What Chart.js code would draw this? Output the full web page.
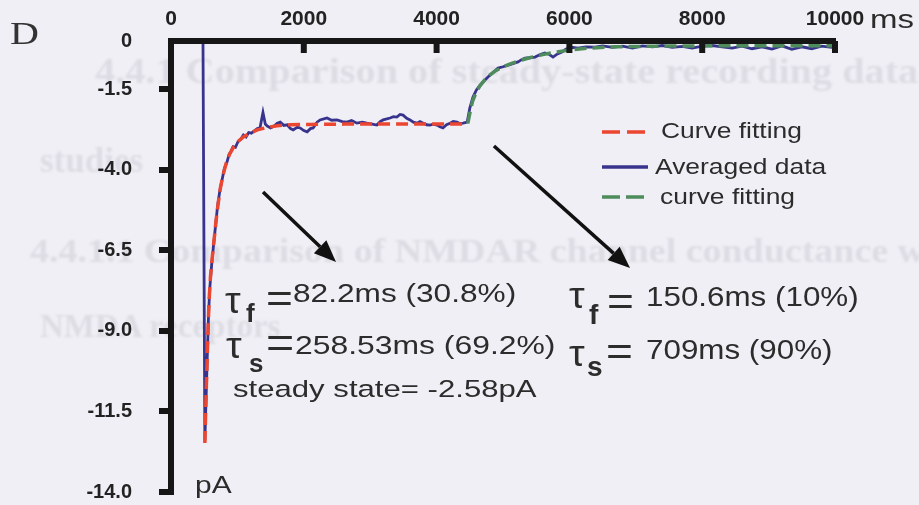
<!DOCTYPE html>
<html>
<head>
<meta charset="utf-8">
<script src="https://cdn.jsdelivr.net/npm/chart.js@4.4.1/dist/chart.umd.min.js"></script>
<style>
  html, body { margin: 0; padding: 0; background: #f0eff5; }
  #wrap { position: relative; width: 919px; height: 505px; overflow: hidden; }
  #ghost { position: absolute; left: 0; top: 0; width: 919px; height: 505px; filter: blur(1.2px); }
  canvas { position: absolute; left: 0; top: 0; }
  .t { position: absolute; white-space: nowrap; line-height: 1; transform-origin: 0 0;
       font-family: "Liberation Sans", Arial, sans-serif; color: #2c2c2c; }
</style>
</head>
<body>
<div id="wrap">
  <div id="ghost"></div>
  <canvas id="c" width="919" height="505"></canvas>
  <div id="notes"></div>
</div>
<script>
// ---- data -------------------------------------------------------------
// time axis ticks (ms) and current axis ticks (pA)
const X_TICKS = [0, 2000, 4000, 6000, 8000, 10000];
const Y_TICKS = [0, -1.5, -4.0, -6.5, -9.0, -11.5, -14.0];

// averaged whole-cell current trace
const avgTime = [
  0, 250, 470, 482, 510, 522, 536, 551, 566, 585, 612, 640, 670, 700, 735, 770, 805, 840, 875, 905,
  935, 970, 1010, 1050, 1090, 1130, 1170, 1210, 1260, 1300, 1340, 1385, 1420, 1450, 1500, 1540, 1600,
  1645, 1700, 1750, 1800, 1840, 1900, 1945, 2000, 2050, 2100, 2140, 2200, 2245, 2300, 2350, 2420, 2500,
  2580, 2650, 2720, 2800, 2880, 2950, 3030, 3100, 3150, 3195, 3250, 3300, 3350, 3400, 3450, 3495, 3550,
  3600, 3650, 3705, 3750, 3800, 3850, 3900, 3950, 4006, 4050, 4096, 4150, 4202, 4250, 4307, 4350, 4400,
  4460, 4500, 4548, 4600, 4654, 4710, 4774, 4850, 4925, 5000, 5075, 5150, 5226, 5280, 5331, 5400, 5482,
  5560, 5632, 5700, 5753, 5820, 5888, 5940, 5980, 6050, 6130, 6250, 6385, 6500, 6650, 6800, 6950, 7100,
  7250, 7400, 7550, 7700, 7850, 8000, 8150, 8300, 8450, 8600, 8750, 8900, 9050, 9200, 9350, 9500, 9650,
  9800, 9950, 10000
];
const avgCurrent = [
  0, 0, 0, -0.1, -12.40, -11.55, -10.55, -9.45, -8.45, -7.65, -6.95, -6.35, -5.75, -5.15, -4.65, -4.30, -3.95, -3.78, -3.52, -3.42,
  -3.28, -3.30, -3.12, -3.05, -2.92, -2.98, -2.84, -2.86, -2.78, -2.72, -2.70, -2.22, -2.58, -2.64, -2.70, -2.66, -2.55,
  -2.52, -2.62, -2.60, -2.72, -2.76, -2.68, -2.70, -2.78, -2.82, -2.72, -2.70, -2.52, -2.45, -2.42, -2.39, -2.46, -2.45,
  -2.50, -2.52, -2.47, -2.55, -2.52, -2.55, -2.58, -2.61, -2.50, -2.45, -2.42, -2.39, -2.35, -2.36, -2.28, -2.30, -2.40,
  -2.45, -2.52, -2.55, -2.50, -2.55, -2.60, -2.61, -2.58, -2.61, -2.66, -2.70, -2.60, -2.55, -2.50, -2.52, -2.56, -2.55,
  -2.52, -2.08, -1.74, -1.52, -1.37, -1.25, -1.12, -0.98, -0.84, -0.80, -0.75, -0.70, -0.65, -0.58, -0.53, -0.52, -0.50,
  -0.42, -0.37, -0.42, -0.50, -0.40, -0.34, -0.26, -0.22, -0.20, -0.22, -0.18, -0.19, -0.15, -0.20, -0.16, -0.22, -0.15,
  -0.18, -0.14, -0.20, -0.17, -0.22, -0.16, -0.14, -0.18, -0.22, -0.16, -0.24, -0.18, -0.25, -0.15, -0.26, -0.18, -0.24,
  -0.16, -0.20, -0.18
];

// double-exponential fit of the decay phase (red)
const fitDecayTime = [510, 525, 540, 555, 572, 595, 620, 650, 680, 710, 745, 785, 830, 880, 940, 1010, 1090, 1190, 1300, 1450, 1600, 1800, 2100, 2600, 3200, 3800, 4450];
const fitDecayCurrent = [-12.48, -11.25, -10.20, -9.15, -8.10, -7.30, -6.75, -6.15, -5.55, -5.05, -4.55, -4.15, -3.80, -3.52, -3.30, -3.12, -2.98, -2.86, -2.76, -2.68, -2.63, -2.60, -2.59, -2.58, -2.58, -2.58, -2.58];

// double-exponential fit of the recovery phase (green)
const fitRecoveryTime = [4470, 4500, 4540, 4590, 4650, 4720, 4800, 4890, 5000, 5120, 5250, 5400, 5580, 5780, 6000, 6300, 6700, 7300, 8200, 10000];
const fitRecoveryCurrent = [-2.56, -2.25, -1.88, -1.62, -1.40, -1.22, -1.06, -0.92, -0.80, -0.70, -0.61, -0.52, -0.43, -0.35, -0.28, -0.22, -0.18, -0.16, -0.15, -0.15];

// ---- styling ----------------------------------------------------------
const AXIS = '#161616';
const BLUE = '#38348e';
const RED = '#ea4630';
const GREEN = '#4e8c5c';
const SANS = '"Liberation Sans", Arial, sans-serif';

const pts = (t, v) => t.map((x, i) => ({ x, y: v[i] }));

// arrows pointing from the trace to the fitted time constants (data units)
const ARROWS = [
  { from: [1386, -4.69], to: [2485, -6.86] },
  { from: [4864, -3.26], to: [6913, -7.05] }
];

// legend entries: dataset index and vertical position of the swatch
const LEGEND_ROWS = [
  { ds: 1, y: 132, dash: [18, 7] },
  { ds: 0, y: 167, dash: [] },
  { ds: 2, y: 197, dash: [18, 6] }
];

const decor = {
  id: 'decor',
  afterDraw(chart) {
    const { ctx, chartArea, scales: { x, y } } = chart;
    ctx.save();
    // inward tick marks on the top time axis
    ctx.strokeStyle = AXIS;
    ctx.lineWidth = 6;
    x.ticks.forEach(t => {
      if (t.value === 0) return;
      const px = x.getPixelForValue(t.value);
      ctx.beginPath();
      ctx.moveTo(px, chartArea.top);
      ctx.lineTo(px, chartArea.top + 12);
      ctx.stroke();
    });
    // annotation arrows
    ctx.strokeStyle = '#111';
    ctx.fillStyle = '#111';
    ctx.lineWidth = 3.5;
    ARROWS.forEach(a => {
      const x1 = x.getPixelForValue(a.from[0]), y1 = y.getPixelForValue(a.from[1]);
      const x2 = x.getPixelForValue(a.to[0]), y2 = y.getPixelForValue(a.to[1]);
      const ang = Math.atan2(y2 - y1, x2 - x1);
      const L = 22, W = 9;
      const bx = x2 - L * Math.cos(ang), by = y2 - L * Math.sin(ang);
      ctx.beginPath(); ctx.moveTo(x1, y1); ctx.lineTo(bx, by); ctx.stroke();
      ctx.beginPath();
      ctx.moveTo(x2, y2);
      ctx.lineTo(bx + W * Math.sin(ang), by - W * Math.cos(ang));
      ctx.lineTo(bx - W * Math.sin(ang), by + W * Math.cos(ang));
      ctx.closePath(); ctx.fill();
    });
    // legend swatches
    LEGEND_ROWS.forEach(r => {
      const ds = chart.data.datasets[r.ds];
      ctx.strokeStyle = ds.borderColor;
      ctx.lineWidth = 3.5;
      ctx.setLineDash(r.dash);
      ctx.beginPath(); ctx.moveTo(602, r.y); ctx.lineTo(648, r.y); ctx.stroke();
    });
    ctx.restore();
  }
};

new Chart(document.getElementById('c'), {
  type: 'line',
  data: {
    datasets: [
      { label: 'Averaged data', data: pts(avgTime, avgCurrent), borderColor: BLUE, borderWidth: 2.8, order: 3 },
      { label: 'Curve fitting', data: pts(fitDecayTime, fitDecayCurrent), borderColor: RED, borderWidth: 3.5, borderDash: [12, 6], order: 1 },
      { label: 'curve fitting', data: pts(fitRecoveryTime, fitRecoveryCurrent), borderColor: GREEN, borderWidth: 3.5, borderDash: [12, 6], order: 2 }
    ]
  },
  options: {
    responsive: false,
    devicePixelRatio: 1,
    animation: false,
    events: [],
    elements: { point: { radius: 0 }, line: { tension: 0, fill: false } },
    layout: { padding: { left: 0, right: 84, top: 0, bottom: 13 } },
    plugins: { legend: { display: false }, tooltip: { enabled: false } },
    scales: {
      x: {
        type: 'linear', position: 'top', min: 0, max: 10000,
        afterBuildTicks: s => { s.ticks = X_TICKS.map(v => ({ value: v })); },
        afterFit: s => { s.height = 41; s.paddingLeft = 0; s.paddingRight = 0; },
        ticks: { callback: v => String(v), font: { family: SANS, size: 21, weight: 'bold' }, color: '#222', padding: 9, maxRotation: 0, autoSkip: false },
        grid: { drawOnChartArea: false, drawTicks: false },
        border: { display: true, width: 6, color: AXIS, z: 1 }
      },
      y: {
        type: 'linear', min: -14, max: 0,
        afterBuildTicks: s => { s.ticks = Y_TICKS.map(v => ({ value: v })); },
        afterFit: s => { s.width = 171; s.paddingTop = 0; s.paddingBottom = 0; },
        ticks: { callback: v => (v === 0 ? '0' : v.toFixed(1)), font: { family: SANS, size: 20, weight: 'bold' }, color: '#222', padding: 27 },
        grid: { drawOnChartArea: false, drawTicks: true, tickLength: 12, lineWidth: 6, z: 1,
                color: c => (c.tick && c.tick.value === 0 ? 'rgba(0,0,0,0)' : AXIS) },
        border: { display: true, width: 6, color: AXIS, z: 1 }
      }
    }
  },
  plugins: [decor]
});

// ---- text overlays ----------------------------------------------------
// place a text run by its left edge and baseline
function put(parent, txt, x, base, size, sx, opts) {
  opts = opts || {};
  const el = document.createElement('span');
  el.className = 't';
  el.textContent = txt;
  const serif = !!opts.serif;
  el.style.fontFamily = serif ? '"Liberation Serif", "Times New Roman", serif' : SANS;
  el.style.fontSize = size + 'px';
  el.style.fontWeight = opts.bold ? 'bold' : 'normal';
  if (opts.color) el.style.color = opts.color;
  el.style.left = x + 'px';
  el.style.top = (base - (serif ? 0.8375 : 0.8465) * size) + 'px';
  el.style.transform = 'scaleX(' + sx + ')';
  parent.appendChild(el);
}

const notes = document.getElementById('notes');
// panel letter and axis units
put(notes, 'D', 10, 44, 32, 1.25, { serif: true, color: '#333' });
put(notes, 'ms', 870, 28, 25, 1.32);
put(notes, 'pA', 195, 493, 23, 1.3);

// legend labels
put(notes, 'Curve fitting', 661, 139, 22, 1.2);
put(notes, 'Averaged data', 655, 175, 22, 1.2);
put(notes, 'curve fitting', 660, 205, 22, 1.2);

// decay-phase fit parameters
put(notes, 'τ', 225, 313, 36, 1.1);
put(notes, 'f', 246, 322, 26, 1.0, { bold: true });
put(notes, '=', 266, 312, 40, 1.15);
put(notes, '82.2ms (30.8%)', 293, 303, 25.5, 1.24);
put(notes, 'τ', 226, 358, 36, 1.1);
put(notes, 's', 249, 372, 26, 1.0, { bold: true });
put(notes, '=', 266, 358, 42, 1.15);
put(notes, '258.53ms (69.2%)', 295, 355, 25.5, 1.25);
put(notes, 'steady state= -2.58pA', 233, 398, 24.5, 1.27);

// recovery-phase fit parameters
put(notes, 'τ', 569, 308, 36, 1.1);
put(notes, 'f', 589, 325, 28, 1.0, { bold: true });
put(notes, '=', 607, 315, 40, 1.15);
put(notes, '150.6ms (10%)', 646, 307, 28, 1.12);
put(notes, 'τ', 569, 366, 36, 1.1);
put(notes, 's', 587, 377, 28, 1.0, { bold: true });
put(notes, '=', 606, 365, 40, 1.15);
put(notes, '709ms (90%)', 646, 360, 28, 1.12);

// faint print-through of the facing page
const ghost = document.getElementById('ghost');
const GHOST_COLOR = '#dddce4';
put(ghost, '4.4.1 Comparison of steady-state recording data', 95, 83, 35, 1.15, { serif: true, bold: true, color: GHOST_COLOR });
put(ghost, 'studies', 40, 172, 35, 1.0, { serif: true, bold: true, color: GHOST_COLOR });
put(ghost, '4.4.1.1 Comparison of NMDAR channel conductance with', 30, 263, 33, 1.15, { serif: true, bold: true, color: GHOST_COLOR });
put(ghost, 'NMDA receptors', 40, 338, 33, 1.0, { serif: true, bold: true, color: GHOST_COLOR });
</script>
</body>
</html>
